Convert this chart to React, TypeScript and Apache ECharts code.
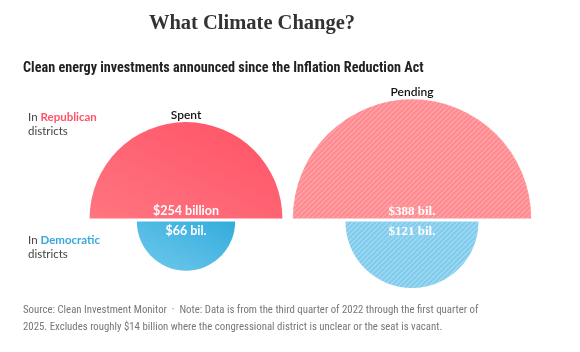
import React, { useEffect, useRef } from "react";
import * as echarts from "echarts";

const columns = ["Spent", "Pending"];
const republicanValues = [254, 388];
const democraticValues = [66, 121];
const republicanLabels = ["$254 billion", "$388 bil."];
const democraticLabels = ["$66 bil.", "$121 bil."];

const title = "What Climate Change?";
const subtitle = "Clean energy investments announced since the Inflation Reduction Act";
const footLine1 =
  "Source: Clean Investment Monitor  \u00b7  Note: Data is from the third quarter of 2022 through the first quarter of";
const footLine2 =
  "2025. Excludes roughly $14 billion where the congressional district is unclear or the seat is vacant.";

function makeHatch(base: string, stripe: string) {
  const s = 5;
  const c = document.createElement("canvas");
  c.width = s;
  c.height = s;
  const ctx = c.getContext("2d")!;
  ctx.fillStyle = base;
  ctx.fillRect(0, 0, s, s);
  ctx.strokeStyle = stripe;
  ctx.lineWidth = 1.1;
  ctx.beginPath();
  ctx.moveTo(-1, s + 1);
  ctx.lineTo(s + 1, -1);
  ctx.moveTo(-1, 1);
  ctx.lineTo(1, -1);
  ctx.moveTo(s - 1, s + 1);
  ctx.lineTo(s + 1, s - 1);
  ctx.stroke();
  return { image: c, repeat: "repeat" } as any;
}

export default function App() {
  const ref = useRef<HTMLDivElement>(null);
  useEffect(() => {
    if (!ref.current) return;
    const chart = echarts.init(ref.current, undefined, { renderer: "svg" });
    const K = 6.05; // px per sqrt(billion): area-proportional semicircles
    const data: any[] = [];
    columns.forEach((c, i) => {
      data.push([i, republicanValues[i], 0]);
      data.push([i, democraticValues[i], 1]);
    });
    const redSpent = new echarts.graphic.LinearGradient(0, 1, 1, 0, [
      { offset: 0, color: "#ff7580" },
      { offset: 1, color: "#ff5266" },
    ]);
    const blueSpent = new echarts.graphic.LinearGradient(0, 1, 1, 0, [
      { offset: 0, color: "#70c9ec" },
      { offset: 1, color: "#33acdc" },
    ]);
    const redPending = makeHatch("#ff8a90", "rgba(255,255,255,0.28)");
    const bluePending = makeHatch("#80cced", "rgba(255,255,255,0.33)");

    chart.setOption({
      animation: false,
      grid: { left: 73, right: 55, top: 119, bottom: 33 },
      xAxis: { type: "category", data: columns, show: false },
      yAxis: { type: "value", min: -1, max: 1, show: false },
      series: [
        {
          type: "custom",
          data,
          renderItem: (params: any, api: any) => {
            const col = api.value(0);
            const v = api.value(1);
            const party = api.value(2);
            const p = api.coord([col, 0]);
            const r = K * Math.sqrt(v);
            const top = party === 0;
            const cy = top ? p[1] - 0.5 : p[1] + 2.5;
            const pending = col === 1;
            const fill = top
              ? pending
                ? redPending
                : redSpent
              : pending
              ? bluePending
              : blueSpent;
            const labels = top ? republicanLabels : democraticLabels;
            const children: any[] = [
              {
                type: "sector",
                shape: {
                  cx: p[0],
                  cy,
                  r,
                  r0: 0,
                  startAngle: top ? Math.PI : 0,
                  endAngle: top ? Math.PI * 2 : Math.PI,
                  clockwise: true,
                },
                style: { fill },
              },
              {
                type: "text",
                x: p[0],
                y: top ? cy - 8 : cy + 9,
                style: {
                  text: labels[col],
                  fill: "#ffffff",
                  fontSize: pending ? 13 : 12.5,
                  fontWeight: "bold",
                  fontFamily: pending ? "Liberation Serif" : "Lato",
                  align: "center",
                  verticalAlign: "middle",
                },
              },
            ];
            if (top) {
              children.push({
                type: "text",
                x: p[0],
                y: cy - r - 8,
                style: {
                  text: columns[col],
                  fill: "#111111",
                  fontSize: 12,
                  fontWeight: 600,
                  fontFamily: "Lato",
                  align: "center",
                  verticalAlign: "middle",
                },
              });
            }
            return { type: "group", children };
          },
        },
      ],
      graphic: [
        {
          type: "text",
          x: 252,
          y: 22,
          style: {
            text: title,
            fontFamily: "Liberation Serif",
            fontWeight: "bold",
            fontSize: 20.5,
            fill: "#333333",
            align: "center",
            verticalAlign: "middle",
          },
        },
        {
          type: "text",
          x: 23,
          y: 67,
          style: {
            text: subtitle,
            fontFamily: "Liberation Sans Narrow, Roboto Condensed, Liberation Sans",
            fontWeight: "bold",
            fontSize: 14.2,
            fill: "#222222",
            align: "left",
            verticalAlign: "middle",
          },
        },
        {
          type: "text",
          x: 28,
          y: 123,
          style: {
            text: "In {r|Republican}\ndistricts",
            fontFamily: "Lato",
            fontSize: 11.5,
            lineHeight: 14,
            fill: "#444444",
            align: "left",
            verticalAlign: "middle",
            rich: {
              r: { fill: "#ff5468", fontWeight: "bold", fontFamily: "Lato", fontSize: 11.5, lineHeight: 14 },
            },
          },
        },
        {
          type: "text",
          x: 28,
          y: 246,
          style: {
            text: "In {d|Democratic}\ndistricts",
            fontFamily: "Lato",
            fontSize: 11.5,
            lineHeight: 14,
            fill: "#444444",
            align: "left",
            verticalAlign: "middle",
            rich: {
              d: { fill: "#3aa8dc", fontWeight: "bold", fontFamily: "Lato", fontSize: 11.5, lineHeight: 14 },
            },
          },
        },
        {
          type: "text",
          x: 23,
          y: 318,
          style: {
            text: footLine1 + "\n" + footLine2,
            fontFamily: "Liberation Sans Narrow, Roboto Condensed, Liberation Sans",
            fontSize: 10.8,
            lineHeight: 17,
            fill: "#777777",
            align: "left",
            verticalAlign: "middle",
          },
        },
      ],
    });
    return () => chart.dispose();
  }, []);
  return (
    <div
      ref={ref}
      style={{ position: "fixed", left: 0, top: 0, width: 580, height: 352 }}
    />
  );
}
